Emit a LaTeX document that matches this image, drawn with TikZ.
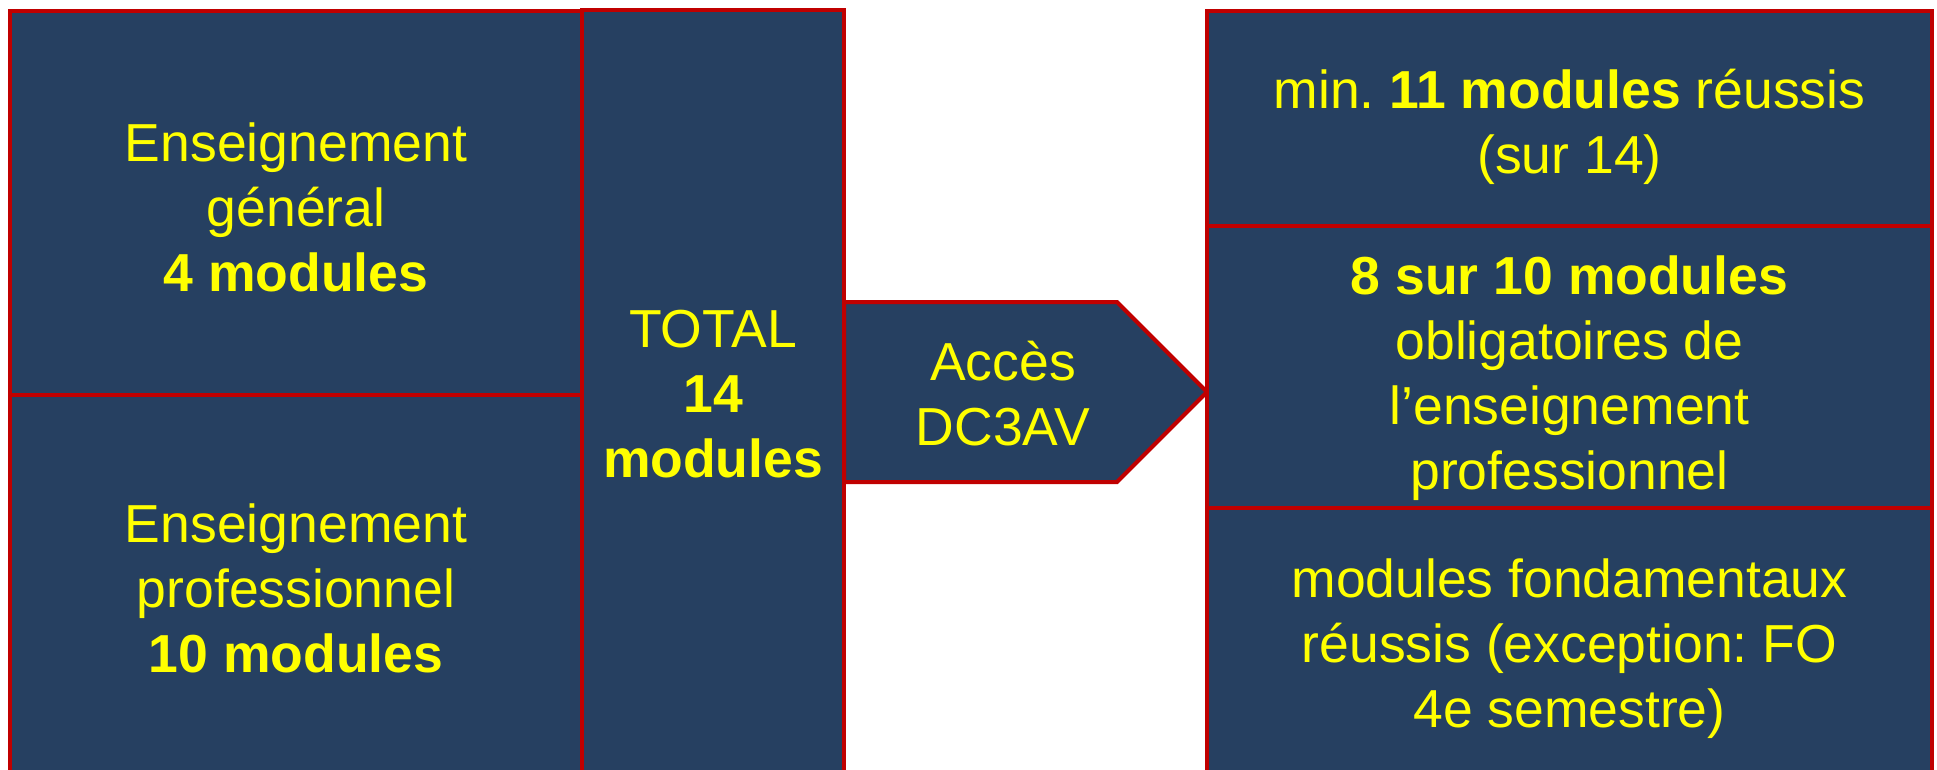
\documentclass[tikz,border=0pt]{standalone}
\usepackage{fontspec}
\setmainfont{Liberation Sans}
\definecolor{navy}{RGB}{38,64,97}
\definecolor{bord}{RGB}{192,0,0}
\definecolor{txt}{RGB}{255,255,0}
\begin{document}
\frenchspacing
\begin{tikzpicture}[x=1pt,y=-1pt,
  box/.style={draw=bord,fill=navy,line width=4pt,rectangle,inner sep=0pt},
  lbl/.style={text=txt,align=center,font=\fontsize{53.5}{65}\selectfont,inner sep=0pt}]
\useasboundingbox (0,0) rectangle (1937,769);
\fill[white] (0,0) rectangle (1937,769);
\clip (0,0) rectangle (1937,769);
% left column
\node[box,minimum width=572pt,minimum height=385pt] (eg) at (296,203) {};
\node[lbl] (egt) at (296,207) {Enseignement\\général\\\textbf{4 modules}};
\node[box,minimum width=572pt,minimum height=385pt] (ep) at (296,587) {};
\node[lbl] (ept) at (296,588) {Enseignement\\professionnel\\\textbf{10 modules}};
% total
\node[box,minimum width=262pt,minimum height=770pt] (tot) at (713,395) {};
\node[lbl] (tott) at (713,394) {TOTAL\\\textbf{14}\\\textbf{modules}};
% arrow
\coordinate (a1) at (844,302);
\coordinate (a2) at (1117,302);
\coordinate (tip) at (1207,392);
\coordinate (a3) at (1117,482);
\coordinate (a4) at (844,482);
\draw[draw=bord,fill=navy,line width=4pt,line join=miter] (a1) -- (a2) -- (tip) -- (a3) -- (a4) -- cycle;
\node[lbl] (acc) at (1003,394) {Accès\\DC3AV};
% right column
\node[box,minimum width=725pt,minimum height=215pt] (r1) at (1569.5,118.5) {};
\node[lbl] (r1t) at (1569.5,127) {min.\ \textbf{11 modules} réussis\\(sur 14)};
\node[box,minimum width=725pt,minimum height=282pt] (r2) at (1569.5,367) {};
\node[lbl] (r2t) at (1569.5,378) {\textbf{8 sur 10 modules}\\obligatoires de\\l’enseignement\\professionnel};
\node[box,minimum width=725pt,minimum height=271pt] (r3) at (1569.5,643.5) {};
\node[lbl] (r3t) at (1569.5,649) {modules fondamentaux\\réussis (exception: FO\\4e semestre)};
\end{tikzpicture}
\end{document}
